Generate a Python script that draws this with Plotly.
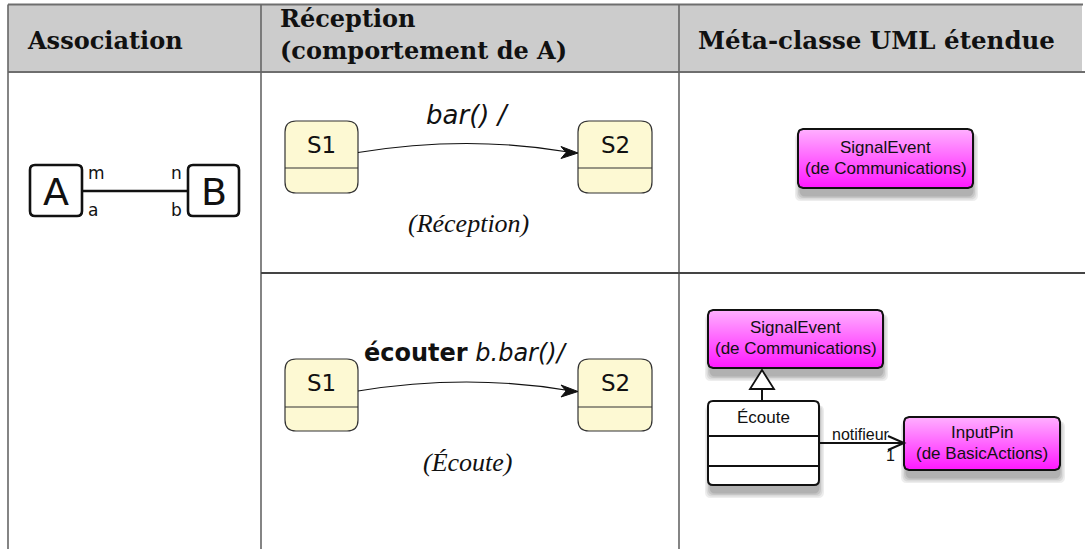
import numpy as np
import plotly.graph_objects as go

W, H = 1085, 549

# ---------------- text content ----------------
header_labels = ["Association", "Réception", "(comportement de A)", "Méta-classe UML étendue"]
assoc_classes = ["A", "B"]
assoc_roles = ["m", "a", "n", "b"]
state_names = ["S1", "S2"]
transition_labels = ["<i>bar() /</i>", "<b>écouter</b> <i>b.bar()/</i>"]
captions = ["<i>(Réception)</i>", "<i>(Écoute)</i>"]
meta_signal = ["SignalEvent", "(de Communications)"]
meta_listen = ["Écoute"]
meta_pin = ["InputPin", "(de BasicActions)"]
assoc_end = ["notifieur", "1"]

# ---------------- table geometry ----------------
col_x = [8, 261, 679, 1085]
top_y, head_y, row_y = 4.5, 72, 273

SERIF = "DejaVu Serif"
SANS = "DejaVu Sans"
ARIAL = "Liberation Sans"

fig = go.Figure()
shapes = []
ann = []


def rr_path(x0, y0, x1, y1, r):
    return (f"M {x0+r},{y0} L {x1-r},{y0} Q {x1},{y0} {x1},{y0+r} "
            f"L {x1},{y1-r} Q {x1},{y1} {x1-r},{y1} L {x0+r},{y1} "
            f"Q {x0},{y1} {x0},{y1-r} L {x0},{y0+r} Q {x0},{y0} {x0+r},{y0} Z")


def rr_points(x0, y0, x1, y1, r, n=8):
    xs, ys = [], []
    corners = [(x1 - r, y0 + r, -90, 0), (x1 - r, y1 - r, 0, 90),
               (x0 + r, y1 - r, 90, 180), (x0 + r, y0 + r, 180, 270)]
    for cx, cy, a0, a1 in corners:
        t = np.radians(np.linspace(a0, a1, n))
        xs += list(cx + r * np.cos(t))
        ys += list(cy + r * np.sin(t))
    xs.append(xs[0]); ys.append(ys[0])
    return xs, ys


def text(x, y, s, size, family, color="#111", xanchor="center", yanchor="middle"):
    ann.append(dict(x=x, y=y, text=s, showarrow=False, xanchor=xanchor, yanchor=yanchor,
                    font=dict(size=size, family=family, color=color)))


# header background + lines
shapes.append(dict(type="rect", x0=col_x[0], x1=1082, y0=top_y, y1=head_y,
                   fillcolor="#cccccc", line=dict(width=0), layer="below"))
for yy in (top_y, head_y):
    shapes.append(dict(type="line", x0=col_x[0], x1=W if yy == head_y else 1083, y0=yy, y1=yy,
                       line=dict(color="#6e6e6e", width=2.2), layer="below"))
for xx in col_x[:3]:
    shapes.append(dict(type="line", x0=xx, x1=xx, y0=top_y, y1=H,
                       line=dict(color="#666666", width=1.6), layer="below"))
shapes.append(dict(type="line", x0=col_x[1], x1=W, y0=row_y, y1=row_y,
                   line=dict(color="#444444", width=1.8), layer="below"))

HS = 24
text(25, 40, "<b>" + header_labels[0] + "</b>", HS, SERIF, xanchor="left")
text(278, 18, "<b>" + header_labels[1] + "</b>", HS, SERIF, xanchor="left")
text(278, 50, "<b>" + header_labels[2] + "</b>", HS, SERIF, xanchor="left")
text(696, 40, "<b>" + header_labels[3] + "</b>", 24.5, SERIF, xanchor="left")

# ---------------- column 1: association ----------------
assoc_boxes = [(30, 165, 82, 216), (188, 165, 239, 216)]
for (x0, y0, x1, y1), name in zip(assoc_boxes, assoc_classes):
    shapes.append(dict(type="path", path=rr_path(x0, y0, x1, y1, 5), fillcolor="white",
                       line=dict(color="#111", width=2.6), layer="below"))
    text((x0 + x1) / 2, (y0 + y1) / 2 + 1, name, 38, SANS)
shapes.append(dict(type="line", x0=82, x1=188, y0=191, y1=191,
                   line=dict(color="#111", width=2.4), layer="below"))
text(86, 173, assoc_roles[0], 17, SANS, xanchor="left")
text(86, 210, assoc_roles[1], 17, SANS, xanchor="left")
text(184, 173, assoc_roles[2], 17, SANS, xanchor="right")
text(184, 210, assoc_roles[3], 17, SANS, xanchor="right")

# ---------------- column 2: state machines ----------------
YEL = "#fdf9d3"
state_rows = [(121, 193, 168), (359, 431, 407)]
state_x = [(285, 358), (578, 652)]
for ri, (y0, y1, yd) in enumerate(state_rows):
    for (x0, x1), name in zip(state_x, state_names):
        shapes.append(dict(type="path", path=rr_path(x0, y0, x1, y1, 11), fillcolor=YEL,
                           line=dict(color="#333", width=1.2), layer="below"))
        shapes.append(dict(type="line", x0=x0, x1=x1, y0=yd, y1=yd,
                           line=dict(color="#333", width=1.2), layer="below"))
        text((x0 + x1) / 2, (y0 + yd) / 2, name, 23, SANS)
    ya = (y0 + yd) / 2 + 8
    xs, xe = state_x[0][1], state_x[1][0]
    ctrl = ya - 18
    shapes.append(dict(type="path", path=f"M {xs},{ya} Q {(xs+xe)/2},{ctrl} {xe-6},{ya}",
                       line=dict(color="#111", width=1.2), layer="above"))
    shapes.append(dict(type="path",
                       path=f"M {xe},{ya+0.5} L {xe-17},{ya-6} L {xe-12},{ya} L {xe-17},{ya+6} Z",
                       fillcolor="#111", line=dict(color="#111", width=1), layer="above"))

text(468, 115, transition_labels[0], 26, SANS)
text(466, 353, transition_labels[1], 24, SANS)
text(468, 223, captions[0], 26, "Liberation Serif")
text(468, 462, captions[1], 26, "Liberation Serif")

# ---------------- column 3: UML meta-classes ----------------
def shadow(x0, y0, x1, y1):
    for k, op in enumerate([0.09, 0.10, 0.12, 0.15]):
        g = 6 - k * 1.5
        shapes.append(dict(type="path", path=rr_path(x0 - g + 3, y0 + 4, x1 + g - 1, y1 + 7 + g, 6),
                           fillcolor=f"rgba(60,60,60,{op})", line=dict(width=0), layer="below"))


def magenta_box(x0, y0, x1, y1, lines):
    shadow(x0, y0, x1, y1)
    xs, ys = rr_points(x0, y0, x1, y1, 5)
    fig.add_trace(go.Scatter(x=xs, y=ys, mode="lines", fill="toself", hoverinfo="skip",
                             line=dict(color="#111", width=2),
                             fillgradient=dict(type="vertical", start=y0, stop=y1,
                                               colorscale=[[0, "#ffb0ff"], [1, "#ff18ff"]]),
                             showlegend=False))
    cy = (y0 + y1) / 2
    n = len(lines)
    for i, s in enumerate(lines):
        text((x0 + x1) / 2, cy + (i - (n - 1) / 2) * 21 - 1, s, 17, ARIAL)


magenta_box(798, 129, 973, 188, meta_signal)
magenta_box(708, 310, 883, 368, meta_signal)
magenta_box(904, 417, 1060, 470, meta_pin)

# Écoute class
shadow(708, 401, 819, 485)
shapes.append(dict(type="path", path=rr_path(708, 401, 819, 485, 5), fillcolor="white",
                   line=dict(color="#111", width=2), layer="below"))
for yd in (436, 466):
    shapes.append(dict(type="line", x0=708, x1=819, y0=yd, y1=yd,
                       line=dict(color="#111", width=2), layer="below"))
text(763, 417, meta_listen[0], 17, ARIAL)

# generalisation
shapes.append(dict(type="line", x0=762, x1=762, y0=389, y1=401,
                   line=dict(color="#111", width=2), layer="above"))
shapes.append(dict(type="path", path="M 762,370 L 774,389 L 750,389 Z", fillcolor="white",
                   line=dict(color="#111", width=1.8), layer="above"))

# association notifieur
shapes.append(dict(type="line", x0=819, x1=904, y0=443, y1=443,
                   line=dict(color="#111", width=2), layer="above"))
shapes.append(dict(type="path", path="M 888,436 L 904,443 L 888,450",
                   line=dict(color="#111", width=2), layer="above"))
text(861, 434, assoc_end[0], 16, ARIAL)
text(890, 455, assoc_end[1], 16, ARIAL)

fig.update_layout(
    width=W, height=H, margin=dict(l=0, r=0, t=0, b=0),
    paper_bgcolor="white", plot_bgcolor="white",
    xaxis=dict(range=[0, W], visible=False, fixedrange=True),
    yaxis=dict(range=[H, 0], visible=False, fixedrange=True),
    shapes=shapes, annotations=ann, showlegend=False,
)
fig.write_html("out.html", config={"displayModeBar": False},
               post_script="document.body.style.margin='0px';")
